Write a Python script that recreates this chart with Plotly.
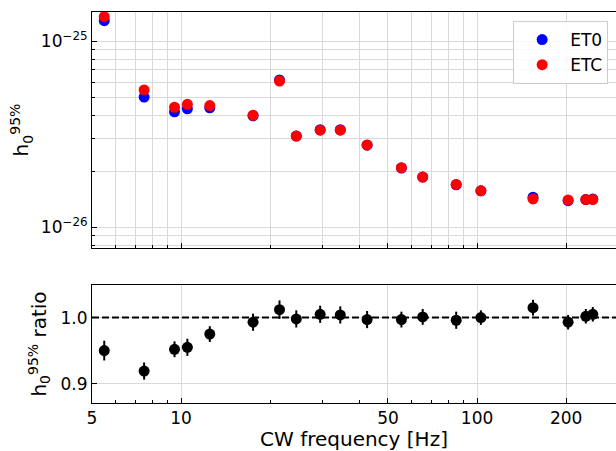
import plotly.graph_objects as go
from plotly.subplots import make_subplots

freq = [5.5, 7.5, 9.5, 10.5, 12.5, 17.5, 21.5, 24.5, 29.5, 34.5, 42.5, 55.5,
        65.5, 85.0, 103.0, 154.5, 203.0, 233.0, 246.0]
h0_et0 = [1.285e-25, 5.0e-26, 4.17e-26, 4.33e-26, 4.38e-26, 3.97e-26, 6.18e-26,
          3.09e-26, 3.34e-26, 3.34e-26, 2.76e-26, 2.08e-26, 1.86e-26, 1.69e-26,
          1.57e-26, 1.45e-26, 1.39e-26, 1.41e-26, 1.42e-26]
h0_etc = [1.35e-25, 5.46e-26, 4.41e-26, 4.57e-26, 4.50e-26, 3.99e-26, 6.10e-26,
          3.09e-26, 3.32e-26, 3.32e-26, 2.77e-26, 2.09e-26, 1.86e-26, 1.70e-26,
          1.57e-26, 1.42e-26, 1.40e-26, 1.41e-26, 1.41e-26]
ratio = [0.950, 0.919, 0.952, 0.955, 0.975, 0.993, 1.012, 0.998, 1.005, 1.004,
         0.997, 0.997, 1.001, 0.996, 1.000, 1.015, 0.993, 1.002, 1.005]
ratio_err = [0.015, 0.013, 0.012, 0.013, 0.012, 0.013, 0.014, 0.013, 0.013, 0.013,
             0.013, 0.012, 0.012, 0.013, 0.011, 0.012, 0.011, 0.011, 0.011]

x_ticks = [5, 10, 50, 100, 200]
x_ticktext = ["5", "10", "50", "100", "200"]
x_minor = [6, 7, 8, 9, 20, 30, 40, 60, 70, 80, 90, 300]
y_top_ticks = [1e-26, 1e-25]
y_top_ticktext = ["10<sup>\u221226</sup>", "10<sup>\u221225</sup>"]
y_top_minor = [8e-27, 9e-27, 2e-26, 3e-26, 4e-26, 5e-26, 6e-26, 7e-26, 8e-26, 9e-26]
y_bot_ticks = [0.9, 1.0]
y_bot_ticktext = ["0.9", "1.0"]
ref_ratio = 1.0

FONT = "DejaVu Sans"
GRID = "#d9d9d9"

fig = make_subplots(rows=2, cols=1, shared_xaxes=True)

fig.add_trace(go.Scatter(x=freq, y=h0_et0, mode="markers", name="ET0",
                         marker=dict(color="#0000ff", size=11)), row=1, col=1)
fig.add_trace(go.Scatter(x=freq, y=h0_etc, mode="markers", name="ETC",
                         marker=dict(color="#ff0000", size=11)), row=1, col=1)
fig.add_trace(go.Scatter(x=freq, y=ratio, mode="markers", showlegend=False,
                         marker=dict(color="black", size=11),
                         error_y=dict(type="data", array=ratio_err, color="black",
                                      thickness=2, width=0)), row=2, col=1)
fig.add_hline(y=ref_ratio, row=2, col=1,
              line=dict(color="black", width=2, dash="7px,3px"))

xr = [0.69897, 2.4693]
common_x = dict(type="log", range=xr, tickmode="array", tickvals=x_ticks,
                ticktext=x_ticktext, ticks="inside", ticklen=5, tickwidth=1,
                tickcolor="black", showline=True, linecolor="black", linewidth=1,
                mirror=True, gridcolor=GRID, gridwidth=1, zeroline=False)

fig.update_layout(
    width=616, height=451,
    margin=dict(l=92, r=0, t=12, b=48),
    plot_bgcolor="white", paper_bgcolor="white",
    font=dict(family=FONT, size=17, color="black"),
    xaxis=dict(**common_x, showticklabels=False, domain=[0, 1],
               minor=dict(tickmode="array", tickvals=x_minor, ticks="inside",
                          ticklen=3, tickcolor="black", showgrid=True,
                          gridcolor=GRID, gridwidth=1)),
    xaxis2=dict(**common_x, showticklabels=True, domain=[0, 1],
                title=dict(text="CW frequency [Hz]", standoff=6),
                minor=dict(tickmode="array", tickvals=x_minor, ticks="inside",
                           ticklen=3, tickcolor="black", showgrid=False)),
    yaxis=dict(type="log", domain=[0.3964, 1.0],
               range=[-26.111, -24.8443],
               tickmode="array", tickvals=y_top_ticks, ticktext=y_top_ticktext,
               ticks="inside", ticklen=5, tickcolor="black",
               showline=True, linecolor="black", linewidth=1, mirror=False,
               gridcolor=GRID, zeroline=False,
               title=dict(text="h<sub>0</sub><sup>95%</sup>", standoff=6),
               minor=dict(tickmode="array", tickvals=y_top_minor, ticks="inside",
                          ticklen=3, tickcolor="black", showgrid=True,
                          gridcolor=GRID, gridwidth=1)),
    yaxis2=dict(domain=[0, 0.3018], range=[0.8706, 1.0494],
                tickmode="array", tickvals=y_bot_ticks, ticktext=y_bot_ticktext,
                ticks="inside", ticklen=5, tickcolor="black",
                showline=True, linecolor="black", linewidth=1, mirror=False,
                gridcolor=GRID, zeroline=False,
                title=dict(text="h<sub>0</sub><sup>95%</sup> ratio", standoff=8)),
    legend=dict(x=0.985, xanchor="right", y=0.977, yanchor="top",
                bgcolor="rgba(255,255,255,0.85)", bordercolor="#cccccc",
                borderwidth=1, font=dict(size=17), itemwidth=46,
                tracegroupgap=0),
)

fig.write_html("out.html")
